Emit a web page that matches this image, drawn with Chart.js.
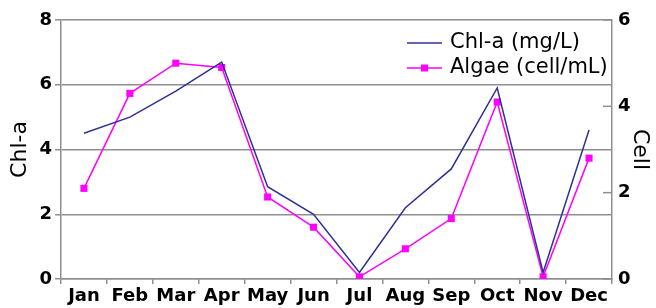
<!DOCTYPE html>
<html>
<head>
<meta charset="utf-8">
<script src="https://cdn.jsdelivr.net/npm/chart.js@4.4.1/dist/chart.umd.min.js"></script>
<style>
  html, body { margin: 0; padding: 0; background: #fff; }
  #wrap { width: 656px; height: 308px; }
</style>
</head>
<body>
<div id="wrap"><canvas id="chart"></canvas></div>
<script>
const months = ['Jan', 'Feb', 'Mar', 'Apr', 'May', 'Jun', 'Jul', 'Aug', 'Sep', 'Oct', 'Nov', 'Dec'];
const chlA = [4.5, 5.0, 5.8, 6.7, 2.85, 2.0, 0.2, 2.2, 3.4, 5.9, 0.2, 4.6];
const algae = [2.1, 4.3, 5.0, 4.9, 1.9, 1.2, 0.05, 0.7, 1.4, 4.1, 0.05, 2.8];
const leftTicks = [0, 2, 4, 6, 8];
const rightTicks = [0, 2, 4, 6];

const navy = '#2e3192';
const magenta = '#ff00ff';
const gridGray = '#8f8f8f';

// legend drawn inside the plot, top right
const innerLegend = {
  id: 'innerLegend',
  afterDraw(chart) {
    const ctx = chart.ctx;
    const items = [
      { label: 'Chl-a (mg/L)', color: navy, box: false },
      { label: 'Algae (cell/mL)', color: magenta, box: true }
    ];
    ctx.save();
    ctx.font = '21px "DejaVu Sans"';
    ctx.textBaseline = 'middle';
    items.forEach((it, i) => {
      const y = 43 + i * 25;
      ctx.strokeStyle = it.color;
      ctx.lineWidth = 1.5;
      ctx.beginPath();
      ctx.moveTo(407, y);
      ctx.lineTo(442, y);
      ctx.stroke();
      if (it.box) {
        ctx.fillStyle = it.color;
        ctx.fillRect(421, y - 3.5, 7, 7);
      }
      ctx.fillStyle = '#000';
      ctx.fillText(it.label, 450, y);
    });
    ctx.restore();
  }
};

// small inward ticks on the right axis
const rightInnerTicks = {
  id: 'rightInnerTicks',
  afterDraw(chart) {
    const s = chart.scales.y1;
    const ctx = chart.ctx;
    ctx.save();
    ctx.strokeStyle = gridGray;
    ctx.lineWidth = 1.5;
    rightTicks.forEach(v => {
      const y = s.getPixelForValue(v);
      ctx.beginPath();
      ctx.moveTo(s.left - 9, y);
      ctx.lineTo(s.left, y);
      ctx.stroke();
    });
    ctx.restore();
  }
};

new Chart(document.getElementById('chart'), {
  type: 'line',
  data: {
    labels: months,
    datasets: [
      {
        label: 'Chl-a (mg/L)',
        data: chlA,
        yAxisID: 'y',
        borderColor: navy,
        borderWidth: 1.5,
        pointRadius: 0,
        tension: 0
      },
      {
        label: 'Algae (cell/mL)',
        data: algae,
        yAxisID: 'y1',
        borderColor: magenta,
        backgroundColor: magenta,
        borderWidth: 1.5,
        pointStyle: 'rect',
        pointRadius: 5,
        pointBorderWidth: 0,
        tension: 0
      }
    ]
  },
  options: {
    responsive: true,
    maintainAspectRatio: false,
    animation: false,
    layout: { padding: { top: 20, left: 0, right: 0, bottom: 0 } },
    plugins: {
      legend: { display: false },
      tooltip: { enabled: false }
    },
    scales: {
      x: {
        offset: true,
        grid: { offset: true, drawOnChartArea: false, color: gridGray, lineWidth: 1.5, tickLength: 5 },
        border: { color: gridGray, width: 1.5 },
        ticks: { color: '#000', font: { family: 'DejaVu Sans', size: 18, weight: 'bold' }, padding: 2, maxRotation: 0, autoSkip: false },
        afterFit(scale) { scale.height = 29; }
      },
      y: {
        position: 'left',
        min: 0,
        max: 8,
        afterBuildTicks(scale) { scale.ticks = leftTicks.map(v => ({ value: v })); },
        grid: { color: gridGray, lineWidth: 1.5, tickLength: 6 },
        border: { color: gridGray, width: 1.5 },
        ticks: { color: '#000', font: { family: 'DejaVu Sans', size: 18, weight: 'bold' }, padding: 3 },
        title: { display: true, text: 'Chl-a', color: '#000', font: { family: 'DejaVu Sans', size: 22 }, padding: { top: 7, bottom: 0 } },
        afterFit(scale) { scale.width = 61; }
      },
      y1: {
        position: 'right',
        min: 0,
        max: 6,
        afterBuildTicks(scale) { scale.ticks = rightTicks.map(v => ({ value: v })); },
        grid: { drawOnChartArea: false, drawTicks: false },
        border: { color: gridGray, width: 1.5 },
        ticks: { color: '#000', font: { family: 'DejaVu Sans', size: 18, weight: 'bold' }, padding: 6 },
        title: { display: true, text: 'Cell', color: '#000', font: { family: 'DejaVu Sans', size: 22 }, padding: { top: 3, bottom: 0 } },
        afterFit(scale) { scale.width = 44; }
      }
    }
  },
  plugins: [innerLegend, rightInnerTicks]
});
</script>
</body>
</html>
